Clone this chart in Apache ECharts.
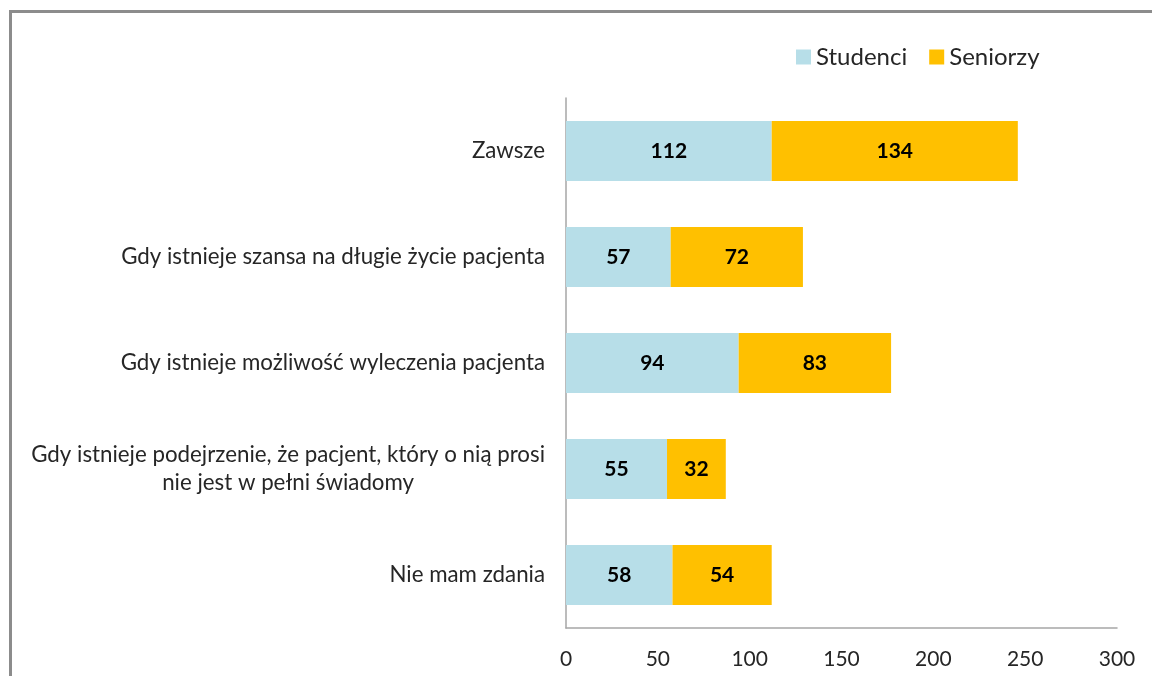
<!DOCTYPE html>
<html>
<head>
<meta charset="utf-8">
<script src="https://cdn.jsdelivr.net/npm/echarts@6/dist/echarts.min.js"></script>
<style>
  html, body { margin: 0; padding: 0; background: #fff; }
  #wrap { position: relative; width: 1152px; height: 676px; overflow: hidden; }
  #frame {
    position: absolute; left: 9px; top: 10px; width: 1300px; height: 800px;
    border: 3px solid #8c8c8c; box-sizing: border-box;
  }
  #chart { position: absolute; left: 0; top: 0; width: 1152px; height: 676px; }
</style>
</head>
<body>
<div id="wrap">
  <div id="frame"></div>
  <div id="chart"></div>
</div>
<script>
// kategorie (od góry)
const categories = [
  'Zawsze',
  'Gdy istnieje szansa na długie życie pacjenta',
  'Gdy istnieje możliwość wyleczenia pacjenta',
  'Gdy istnieje podejrzenie, że pacjent, który o nią prosi\nnie jest w pełni świadomy',
  'Nie mam zdania'
];
const studenci = [112, 57, 94, 55, 58];
const seniorzy = [134, 72, 83, 32, 54];
const seriesNames = ['Studenci', 'Seniorzy'];

const FONT = 'Lato';

let chart = echarts.init(document.getElementById('chart'));

let option = {
  animation: false,
  color: ['#B7DEE8', '#FFC000'],
  textStyle: { fontFamily: FONT },
  legend: {
    data: seriesNames,
    top: 40,
    left: 791,
    itemWidth: 15,
    itemHeight: 15,
    itemGap: 22,
    icon: 'rect',
    textStyle: { fontFamily: FONT, fontSize: 24, color: '#262626' }
  },
  grid: {
    left: 566,
    right: 35,
    top: 98,
    bottom: 48
  },
  xAxis: {
    type: 'value',
    min: 0,
    max: 300,
    interval: 50,
    splitLine: { show: false },
    axisTick: { show: false },
    axisLine: { show: true, lineStyle: { color: '#a6a6a6', width: 1.5 } },
    axisLabel: {
      margin: 21,
      fontFamily: FONT,
      fontSize: 21,
      color: '#262626'
    }
  },
  yAxis: {
    type: 'category',
    data: categories,
    inverse: true,
    axisTick: { show: false },
    axisLine: { show: true, lineStyle: { color: '#a6a6a6', width: 1.5 } },
    axisLabel: {
      margin: 21,
      fontFamily: FONT,
      fontSize: 22.3,
      color: '#262626',
      lineHeight: 28,
      formatter: function (val) {
        return val.split('\n').map(function (s) { return '{c|' + s + '}'; }).join('\n');
      },
      rich: {
        c: { align: 'center', fontFamily: FONT, fontSize: 22.3, color: '#262626', lineHeight: 28 }
      }
    }
  },
  series: [
    {
      name: seriesNames[0],
      type: 'bar',
      stack: 'all',
      data: studenci,
      barWidth: 60,
      label: {
        show: true,
        position: 'inside',
        color: '#000',
        fontWeight: 'bold',
        fontFamily: FONT,
        fontSize: 21
      }
    },
    {
      name: seriesNames[1],
      type: 'bar',
      stack: 'all',
      data: seniorzy,
      barWidth: 60,
      label: {
        show: true,
        position: 'inside',
        color: '#000',
        fontWeight: 'bold',
        fontFamily: FONT,
        fontSize: 21
      }
    }
  ]
};

chart.setOption(option);
</script>
</body>
</html>
